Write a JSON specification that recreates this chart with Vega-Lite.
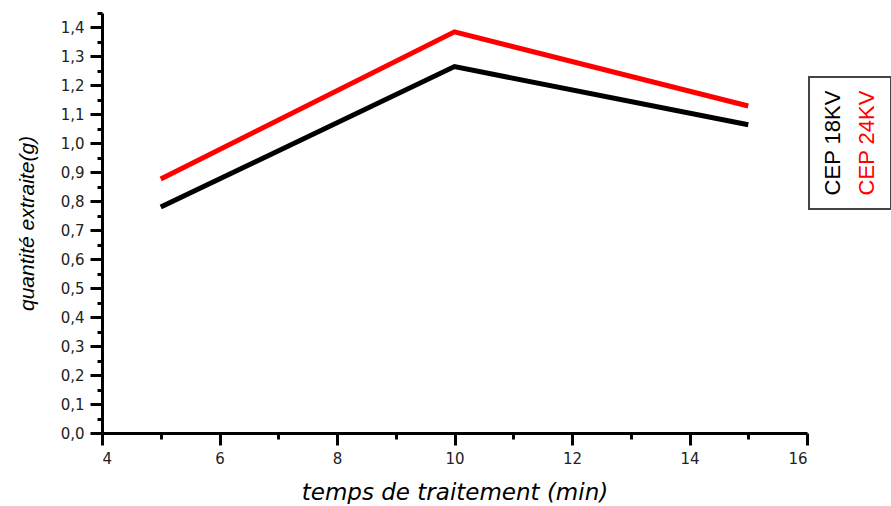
{
  "$schema": "https://vega.github.io/schema/vega-lite/v6.json",
  "padding": {"left": 16, "top": 6, "right": 0, "bottom": 0},
  "background": "white",
  "config": {
    "view": {"stroke": null},
    "font": "Liberation Sans",
    "axis": {
      "grid": false,
      "domainColor": "#000",
      "domainWidth": 3,
      "tickColor": "#000",
      "tickWidth": 3,
      "labelFont": "DejaVu Sans",
      "labelFontSize": 15,
      "labelColor": "#222",
      "labelOverlap": false,
      "titleColor": "#000",
      "titleFontWeight": "normal",
      "titleFontStyle": "italic"
    }
  },
  "datasets": {
    "d": [
      {"serie": "CEP 18KV", "t": 5, "q": 0.78},
      {"serie": "CEP 18KV", "t": 10, "q": 1.265},
      {"serie": "CEP 18KV", "t": 15, "q": 1.064},
      {"serie": "CEP 24KV", "t": 5, "q": 0.877},
      {"serie": "CEP 24KV", "t": 10, "q": 1.385},
      {"serie": "CEP 24KV", "t": 15, "q": 1.129}
    ],
    "leg": [
      {"serie": "CEP 18KV"},
      {"serie": "CEP 24KV"}
    ]
  },
  "spacing": -10,
  "hconcat": [
    {
      "width": 705,
      "height": 420,
      "data": {"name": "d"},
      "mark": {"type": "line", "strokeWidth": 5},
      "encoding": {
        "x": {
          "field": "t", "type": "quantitative",
          "scale": {"domain": [4, 16], "nice": false, "zero": false},
          "axis": {
            "title": "temps de traitement (min)",
            "titleFont": "DejaVu Sans",
            "titleFontSize": 23,
            "titlePadding": 15,
            "values": [4, 5, 6, 7, 8, 9, 10, 11, 12, 13, 14, 15, 16],
            "labelExpr": "datum.value % 2 == 0 ? datum.label : ''",
            "tickSize": {"condition": {"test": "datum.value % 2 == 0", "value": 12}, "value": 6},
            "labelPadding": 6
          }
        },
        "y": {
          "field": "q", "type": "quantitative",
          "scale": {"domain": [0, 1.45], "nice": false},
          "axis": {
            "title": "quantité extraite(g)",
            "titleFont": "Liberation Sans",
            "titleFontSize": 21,
            "titlePadding": 23,
            "values": [0, 0.05, 0.1, 0.15, 0.2, 0.25, 0.3, 0.35, 0.4, 0.45, 0.5, 0.55, 0.6, 0.65, 0.7, 0.75, 0.8, 0.85, 0.9, 0.95, 1, 1.05, 1.1, 1.15, 1.2, 1.25, 1.3, 1.35, 1.4, 1.45],
            "labelExpr": "abs(round(datum.value * 10) - datum.value * 10) < 0.001 ? replace(format(datum.value, '.1f'), '.', ',') : ''",
            "tickSize": {"condition": {"test": "abs(round(datum.value * 10) - datum.value * 10) < 0.001", "value": 12}, "value": 5},
            "labelPadding": 6
          }
        },
        "color": {
          "field": "serie", "type": "nominal",
          "scale": {"domain": ["CEP 18KV", "CEP 24KV"], "range": ["#000000", "#ff0000"]},
          "legend": null
        }
      }
    },
    {
      "spacing": 0,
      "vconcat": [
        {
          "width": 82,
          "height": 63,
          "data": {"values": []},
          "mark": "point"
        },
        {
          "width": 82,
          "height": 132,
          "view": {"stroke": "#444", "strokeWidth": 2},
          "data": {"name": "leg"},
          "mark": {"type": "text", "angle": 270, "font": "Liberation Sans", "fontSize": 22, "align": "center", "baseline": "middle"},
          "encoding": {
            "x": {"field": "serie", "type": "nominal", "scale": {"type": "point", "padding": 0.7}, "axis": null},
            "text": {"field": "serie"},
            "color": {
              "field": "serie", "type": "nominal",
              "scale": {"domain": ["CEP 18KV", "CEP 24KV"], "range": ["#000000", "#ff0000"]},
              "legend": null
            }
          }
        }
      ]
    }
  ]
}
